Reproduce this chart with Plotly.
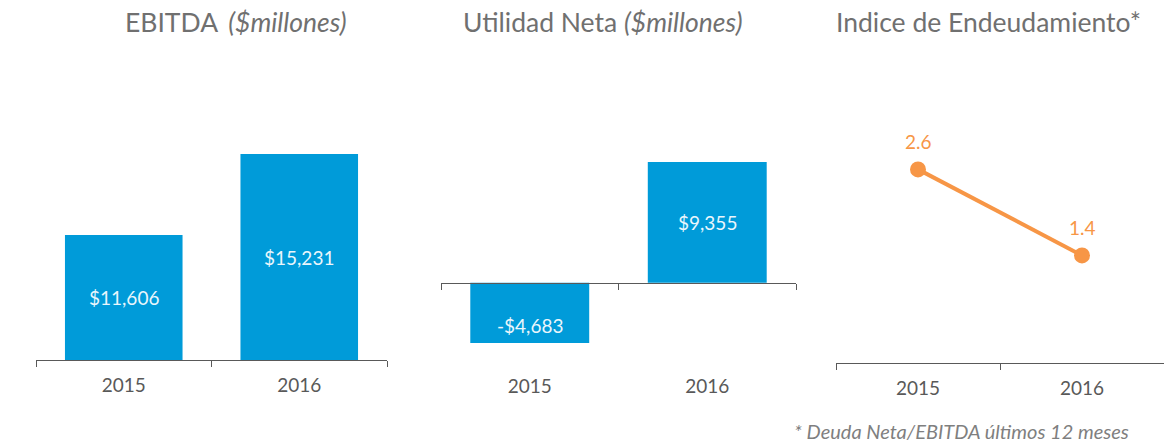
import plotly.graph_objects as go

# ---- data ----
years = ["2015", "2016"]
ebitda = [11606, 15231]
utilidad = [-4683, 9355]
endeudamiento = [2.6, 1.4]
ebitda_labels = ["$11,606", "$15,231"]
utilidad_labels = ["-$4,683", "$9,355"]
endeud_labels = ["2.6", "1.4"]
titles = ["EBITDA&#8201; <i>($millones)</i>",
          "Utilidad Neta <i>($millones)</i>",
          "Indice de Endeudamiento*"]
footnote = "<i>* Deuda Neta/EBITDA últimos 12 meses</i>"

W, H = 1164, 444
BLUE = "#009BD9"
ORANGE = "#F79646"
AX = "#595959"
LABEL = "#EAF6FC"
FONT = "Lato"

def px(x):
    return x / W

def py(y):
    return 1 - y / H

ebitda_min, ebitda_max = 6000, 19000
util_min, util_max = -6000, 16500
end_min, end_max = -0.1, 4.0

fig = go.Figure()
fig.add_trace(go.Bar(x=years, y=ebitda, xaxis="x", yaxis="y", width=0.67,
                     marker=dict(color=BLUE, line=dict(width=0)), hoverinfo="x+y"))
fig.add_trace(go.Bar(x=years, y=utilidad, xaxis="x2", yaxis="y2", width=0.67,
                     marker=dict(color=BLUE, line=dict(width=0)), hoverinfo="x+y"))
fig.add_trace(go.Scatter(x=years, y=endeudamiento, xaxis="x3", yaxis="y3",
                         mode="lines+markers",
                         line=dict(color=ORANGE, width=4),
                         marker=dict(size=16, color=ORANGE), hoverinfo="x+y"))

annotations = []
# bar value labels (centered in visible part of bar); x given as category index
for i, (v, lab) in enumerate(zip(ebitda, ebitda_labels)):
    annotations.append(dict(x=i, y=(v + ebitda_min) / 2, xref="x", yref="y", text=lab,
                            showarrow=False, font=dict(family=FONT, size=19, color=LABEL)))
for i, (v, lab) in enumerate(zip(utilidad, utilidad_labels)):
    annotations.append(dict(x=i, y=v / 2, xref="x2", yref="y2", text=lab,
                            showarrow=False, yshift=-13 if v < 0 else 0,
                            font=dict(family=FONT, size=19, color=LABEL)))
for i, (v, lab) in enumerate(zip(endeudamiento, endeud_labels)):
    annotations.append(dict(x=i, y=v, xref="x3", yref="y3", text=lab,
                            showarrow=False, yshift=28,
                            font=dict(family=FONT, size=19, color=ORANGE)))
# titles
for t, x0 in zip(titles, [123, 461, 834]):
    annotations.append(dict(x=px(x0), y=py(22), xref="paper", yref="paper", text=t,
                            xanchor="left", yanchor="middle", showarrow=False,
                            font=dict(family=FONT, size=26.5, color="#707070")))
annotations.append(dict(x=px(1131), y=py(431), xref="paper", yref="paper", text=footnote,
                        xanchor="right", yanchor="middle", showarrow=False,
                        font=dict(family=FONT, size=20, color="#7F7F7F")))

xcommon = dict(type="category", range=[-0.5, 1.5], showline=True, linecolor=AX, linewidth=1.3,
               ticks="outside", tickson="boundaries", ticklen=6, tickcolor=AX, tickwidth=1.3,
               tickfont=dict(family=FONT, size=19, color=AX), showgrid=False, zeroline=False,
               fixedrange=True)
ycommon = dict(visible=False, showgrid=False, zeroline=False, fixedrange=True)

fig.update_layout(
    width=W, height=H,
    margin=dict(l=0, r=0, t=0, b=0),
    paper_bgcolor="white", plot_bgcolor="white",
    showlegend=False,
    xaxis=dict(domain=[px(36), px(387)], anchor="y", ticklabelstandoff=8, **xcommon),
    yaxis=dict(domain=[py(360), py(70)], range=[ebitda_min, ebitda_max], anchor="x", **ycommon),
    xaxis2=dict(domain=[px(441), px(796)], anchor="free", position=py(283),
                ticklabelstandoff=86, **xcommon),
    yaxis2=dict(domain=[py(360), py(70)], range=[util_min, util_max], anchor="x2", **ycommon),
    xaxis3=dict(domain=[px(836), 1.0], anchor="y3", ticklabelstandoff=8, **xcommon),
    yaxis3=dict(domain=[py(363), py(69)], range=[end_min, end_max], anchor="x3", **ycommon),
    annotations=annotations,
)

fig.write_html("out.html", config={"displayModeBar": False},
               post_script="document.body.style.margin='0px';")
